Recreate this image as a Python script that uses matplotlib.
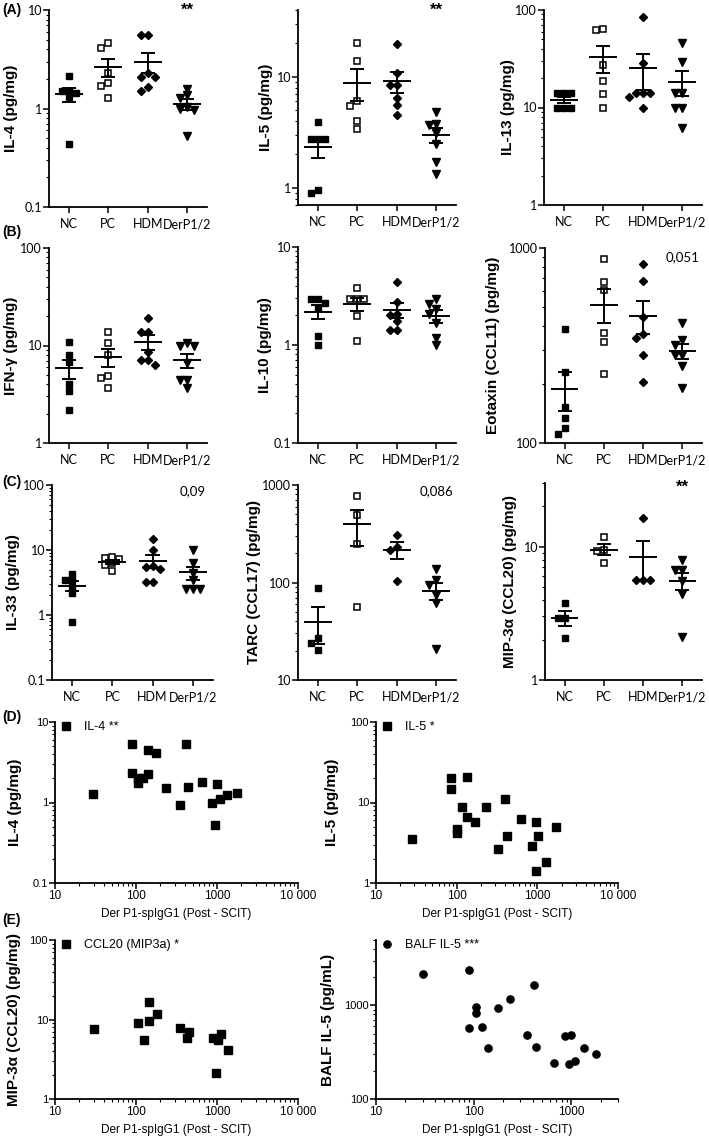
import numpy as np
import matplotlib
matplotlib.use('Agg')
import matplotlib.pyplot as plt
from matplotlib import font_manager
from matplotlib.ticker import LogLocator, FuncFormatter, NullFormatter

plt.rcParams['font.family'] = ['Liberation Sans', 'DejaVu Sans']
names = {f.name for f in font_manager.fontManager.ttflist}
narrow = 'Liberation Sans Narrow' if 'Liberation Sans Narrow' in names else 'Liberation Sans'
tickfont = 'Lato' if 'Lato' in names else 'Liberation Sans'

W, H = 709, 1136
groups = ['NC', 'PC', 'HDM', 'DerP1/2']

# ---- column data (pg/mg), one list per group: NC, PC, HDM, DerP1/2
il4 = [[2.15, 1.5, 1.5, 1.45, 1.3, 0.44],
       [4.6, 4.1, 2.3, 1.8, 1.7, 1.28],
       [5.55, 5.55, 2.28, 2.1, 2.1, 1.67, 1.52],
       [1.58, 1.37, 1.27, 1.04, 1.0, 0.96, 0.52]]
il5 = [[3.9, 2.75, 2.75, 2.75, 0.95, 0.9],
       [20.3, 14.0, 6.1, 5.45, 4.0, 3.37],
       [19.6, 10.9, 8.4, 8.4, 6.4, 5.55, 4.55],
       [4.8, 3.77, 3.7, 3.1, 2.5, 1.7, 1.33]]
il13 = [[14, 14, 14, 10, 10, 10],
        [64, 62, 27, 18.9, 13.9, 9.8],
        [84, 28.4, 14, 14, 14, 12.7, 9.8],
        [46, 29, 14.2, 14.2, 9.9, 9.9, 6.1]]
ifng = [[10.8, 8.0, 6.7, 4.05, 3.4, 2.18],
        [13.7, 10.6, 8.0, 4.9, 4.6, 3.7],
        [19.1, 13.9, 13.9, 8.5, 7.1, 7.1, 6.25],
        [10.6, 9.8, 9.8, 6.6, 4.45, 4.45, 3.7]]
il10 = [[2.94, 2.94, 2.68, 2.37, 1.25, 1.0],
        [3.8, 2.94, 2.94, 2.94, 1.96, 1.11],
        [4.4, 2.72, 2.07, 2.0, 1.76, 1.43, 1.43],
        [2.98, 2.6, 2.32, 2.07, 1.67, 1.17, 1.0]]
eotaxin = [[385, 231, 153, 134, 119, 111],
           [878, 667, 609, 366, 331, 226],
           [828, 680, 441, 362, 344, 282, 206],
           [414, 337, 318, 282, 282, 249, 191]]
il33 = [[4.27, 3.45, 3.45, 2.73, 2.16, 0.79],
        [7.8, 7.5, 7.2, 6.2, 5.8, 4.7],
        [14.6, 10, 5.7, 5.5, 5.1, 3.25, 3.25],
        [10, 6.2, 4.5, 3.45, 2.5, 2.5, 2.5]]
tarc = [[88, 26.8, 23.7, 20.4],
        [777, 494, 250, 55.6],
        [309, 234, 217, 103],
        [136, 107, 95, 75, 62, 20.7]]
mip3a = [[3.8, 2.9, 2.9, 2.05],
         [11.75, 9.5, 9.3, 7.5],
         [16.4, 5.6, 5.6, 5.6],
         [7.9, 6.7, 6.7, 5.5, 4.4, 2.1]]

# ---- correlation data: Der P1-spIgG1 (Post-SCIT) vs cytokine
d_il4_x = [29.7, 89, 89, 105, 105, 123, 139, 139, 177, 234, 349, 414, 438, 659, 867, 1000, 935, 1089, 1341, 1778]
d_il4_y = [1.28, 5.3, 2.3, 2.0, 1.74, 2.0, 4.5, 2.26, 4.07, 1.5, 0.94, 5.4, 1.55, 1.79, 0.98, 1.69, 0.53, 1.1, 1.24, 1.33]
d_il5_x = [28.2, 85, 85, 101, 101, 117, 135, 135, 170, 228, 330, 398, 418, 635, 851, 955, 1029, 1268, 1702, 955]
d_il5_y = [3.5, 20.4, 14.6, 4.67, 4.17, 8.8, 21, 6.6, 5.65, 8.8, 2.64, 11.1, 3.8, 6.3, 2.85, 5.8, 3.86, 1.8, 4.95, 1.4]
e_ccl20_x = [30, 107, 143, 180, 143, 125, 353, 446, 423, 897, 1035, 1117, 1374, 968]
e_ccl20_y = [7.6, 9.0, 16.7, 11.8, 9.6, 5.6, 7.9, 6.9, 5.8, 5.9, 5.6, 6.6, 4.1, 2.1]
e_balf_x = [30, 89, 89, 105, 105, 123, 139, 177, 234, 349, 414, 438, 659, 867, 935, 1000, 1089, 1341, 1778]
e_balf_y = [2170, 2390, 575, 960, 829, 594, 353, 937, 1178, 481, 1670, 359, 241, 469, 235, 485, 255, 353, 300]


def box(l, t, r, b):
    return [l / W, 1 - b / H, (r - l) / W, (b - t) / H]


def fmt(v, pos):
    if v >= 10000:
        return '{:,.0f}'.format(v).replace(',', ' ')
    if v >= 1:
        return '%d' % v
    return '%g' % v


def style_log_y(ax, lo, hi, size=9, family=None):
    ax.set_yscale('log')
    ax.set_ylim(lo, hi)
    ax.yaxis.set_major_locator(LogLocator(base=10))
    ax.yaxis.set_minor_locator(LogLocator(base=10, subs=np.arange(2, 10)))
    ax.yaxis.set_major_formatter(FuncFormatter(fmt))
    ax.yaxis.set_minor_formatter(NullFormatter())
    for lab in ax.get_yticklabels():
        lab.set_fontsize(size)
        if family:
            lab.set_family(family)
    for s in ['top', 'right']:
        ax.spines[s].set_visible(False)
    for s in ['left', 'bottom']:
        ax.spines[s].set_linewidth(1.3)
    ax.tick_params(which='major', length=4, width=1.1, pad=1)
    ax.tick_params(which='minor', length=2.5, width=0.8)


def swarm(ax, pos, vals, step=7.0, size=6.0):
    pts = ax.transData.transform(np.column_stack([np.full(len(vals), float(pos)), vals]))
    ppu = ax.transData.transform((1, 1))[0] - ax.transData.transform((0, 1))[0]
    placed, xs = [], []
    for px, py in pts:
        for k in [0, -1, 1, -2, 2, -3, 3]:
            cx = px + k * step
            if all(abs(cx - qx) >= size or abs(py - qy) >= size for qx, qy in placed):
                break
        placed.append((cx, py))
        xs.append(pos + k * step / ppu)
    return xs


markers = [dict(marker='s', mfc='black', mec='black', ms=4.6),
           dict(marker='s', mfc='white', mec='black', ms=4.4, mew=1.1),
           dict(marker='D', mfc='black', mec='black', ms=4.4),
           dict(marker='v', mfc='black', mec='black', ms=5.4)]


def column_panel(rect, data, lo, hi, ylabel, labx, note=None, note_y=1.02, star=False):
    ax = fig.add_axes(box(*rect))
    ax.set_xlim(-0.5, 3.5)
    style_log_y(ax, lo, hi, size=9, family=tickfont)
    ax.set_xticks(range(4))
    ax.set_xticklabels(groups, fontsize=9, family=tickfont)
    ax.tick_params(axis='x', which='major', pad=4)
    for i, vals in enumerate(data):
        vals = np.array(vals, dtype=float)
        xs = swarm(ax, i, vals)
        ax.plot(xs, vals, ls='none', zorder=3, **markers[i])
        m = vals.mean()
        se = vals.std(ddof=1) / np.sqrt(len(vals))
        ax.hlines(m, i - 0.35, i + 0.35, color='black', lw=1.4, zorder=4)
        ax.vlines(i, m - se, m + se, color='black', lw=1.4, zorder=4)
        ax.hlines([m - se, m + se], i - 0.18, i + 0.18, color='black', lw=1.4, zorder=4)
    ax.set_ylabel(ylabel, fontsize=11, fontweight='bold', va='center')
    ax.yaxis.set_label_coords(labx, 0.5)
    if note:
        ax.text(3, note_y, note, transform=ax.get_xaxis_transform(), ha='center',
                va='baseline', fontsize=12 if star else 9.5, family=None if star else tickfont,
                fontweight='bold' if star else 'normal', clip_on=False)
    return ax


def corr_panel(rect, x, y, xlim, ylim, ylabel, labx, legend, marker):
    ax = fig.add_axes(box(*rect))
    ax.set_xscale('log')
    ax.set_xlim(*xlim)
    ax.xaxis.set_major_locator(LogLocator(base=10))
    ax.xaxis.set_minor_locator(LogLocator(base=10, subs=np.arange(2, 10)))
    ax.xaxis.set_major_formatter(FuncFormatter(fmt))
    ax.xaxis.set_minor_formatter(NullFormatter())
    style_log_y(ax, *ylim, size=8, family=narrow)
    for lab in ax.get_xticklabels():
        lab.set_fontsize(8.5)
        lab.set_family(narrow)
    ax.plot(x, y, ls='none', marker=marker, color='black', ms=5.2, label=legend)
    ax.set_xlabel('Der P1-spIgG1 (Post - SCIT)', fontsize=8.5, family=narrow, labelpad=4)
    ax.set_ylabel(ylabel, fontsize=11, fontweight='bold', va='center')
    ax.yaxis.set_label_coords(labx, 0.5)
    ax.legend(loc='upper left', bbox_to_anchor=(-0.01, 1.06), frameon=False,
              handlelength=0.8, handletextpad=1.0, borderpad=0.2,
              prop={'family': narrow, 'size': 9})
    return ax


fig = plt.figure(figsize=(W / 100, H / 100), dpi=100)

# row A
column_panel((49, 10, 207, 207), il4, 0.1, 10, 'IL-4 (pg/mg)', -0.24, '**', 0.975, True)
column_panel((298, 10, 456, 205), il5, 0.7, 40, 'IL-5 (pg/mg)', -0.2, '**', 0.975, True)
column_panel((544, 10, 702, 205), il13, 1, 100, 'IL-13 (pg/mg)', -0.23)
# row B
column_panel((49, 248, 207, 443), ifng, 1, 100, 'IFN-γ (pg/mg)', -0.24)
column_panel((298, 247, 456, 443), il10, 0.1, 10, 'IL-10 (pg/mg)', -0.21)
column_panel((545, 248, 702, 443), eotaxin, 100, 1000, 'Eotaxin (CCL11) (pg/mg)', -0.33, '0,051', 0.93)
# row C
column_panel((52, 485, 213, 680), il33, 0.1, 100, 'IL-33 (pg/mg)', -0.24, '0,09', 0.95)
column_panel((298, 485, 456, 680), tarc, 10, 1000, 'TARC (CCL17) (pg/mg)', -0.28, '0,086', 0.95)
column_panel((545, 483, 702, 680), mip3a, 1, 30, 'MIP-3α (CCL20) (pg/mg)', -0.22, '**', 0.955, True)
# row D
corr_panel((55, 722, 298, 883), d_il4_x, d_il4_y, (10, 10000), (0.1, 10), 'IL-4 (pg/mg)', -0.165, 'IL-4 **', 's')
corr_panel((376, 722, 618, 883), d_il5_x, d_il5_y, (10, 10000), (1, 100), 'IL-5 (pg/mg)', -0.18, 'IL-5 *', 's')
# row E
corr_panel((55, 940, 298, 1099), e_ccl20_x, e_ccl20_y, (10, 10000), (1, 100), 'MIP-3α (CCL20) (pg/mg)', -0.17, 'CCL20 (MIP3a) *', 's')
corr_panel((376, 940, 618, 1099), e_balf_x, e_balf_y, (10, 3000), (100, 5000), 'BALF IL-5 (pg/mL)', -0.2, 'BALF IL-5 ***', 'o')

for lab, y in [('(A)', 10), ('(B)', 232), ('(C)', 482), ('(D)', 717), ('(E)', 920)]:
    fig.text(2 / W, 1 - y / H, lab, fontsize=10, fontweight='bold', va='center', ha='left')

fig.savefig('out.png', dpi=100)
